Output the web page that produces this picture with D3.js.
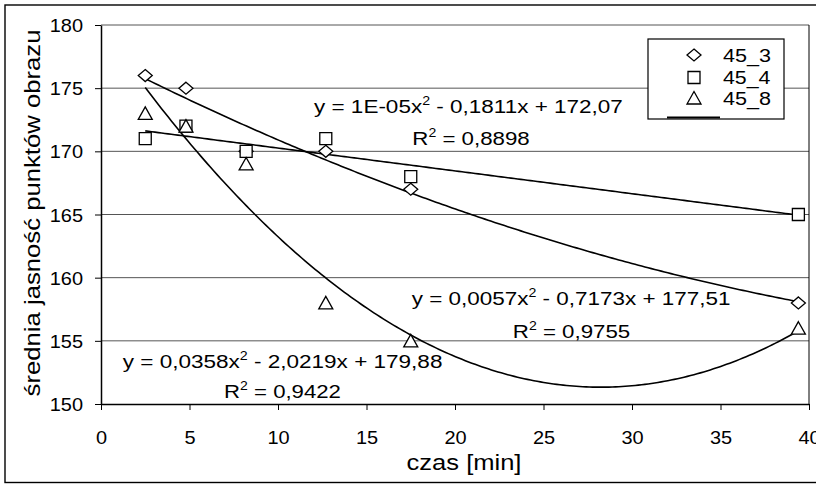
<!DOCTYPE html>
<html>
<head>
<meta charset="utf-8">
<script src="https://cdn.jsdelivr.net/npm/d3@7"></script>
<style>
  html, body { margin: 0; padding: 0; background: #fff; }
  svg { display: block; font-family: "Liberation Sans", Arial, sans-serif; }
</style>
</head>
<body>
<script>
// ---------- data ----------
const seriesNames = ["45_3", "45_4", "45_8"];
const xValues = [2.5, 4.8, 8.2, 12.7, 17.5, 39.4];
const values45_3 = [176, 175, 170, 170, 167, 158];
const values45_4 = [171, 172, 170, 171, 168, 165];
const values45_8 = [173, 172, 169, 158, 155, 156];
// polynomial trendline coefficients [a, b, c] : y = a x^2 + b x + c
const trend45_3 = [0.0057, -0.7173, 177.51];
const trend45_4 = [0.00001, -0.1811, 172.07];
const trend45_8 = [0.0358, -2.0219, 179.88];
const eqLeft45_3 = "y = 0,0057x", eqRight45_3 = " - 0,7173x + 177,51", r2_45_3 = "0,9755";
const eqLeft45_4 = "y = 1E-05x", eqRight45_4 = " - 0,1811x + 172,07", r2_45_4 = "0,8898";
const eqLeft45_8 = "y = 0,0358x", eqRight45_8 = " - 2,0219x + 179,88", r2_45_8 = "0,9422";
const xTicks = [0, 5, 10, 15, 20, 25, 30, 35, 40];
const yTicks = [150, 155, 160, 165, 170, 175, 180];
const xTitle = "czas [min]";
const yTitle = "średnia jasność punktów obrazu";

// ---------- layout ----------
const W = 816, H = 484;
const plot = { left: 101, right: 809, top: 25, bottom: 404 };
const markerShapes = {
  diamond: "M0,-6L7,0L0,6L-7,0Z",
  square: "M-6,-6H6V6H-6Z",
  triangle: "M0,-6.5L7,6L-7,6Z"
};
const series = [
  { name: seriesNames[0], values: values45_3, coef: trend45_3, shape: "diamond",
    eq: [eqLeft45_3, eqRight45_3], r2: r2_45_3, eqPos: { x: 411.7, y: 305, w: 319 }, r2Pos: { cx: 571.5, y: 338, w: 117.5 } },
  { name: seriesNames[1], values: values45_4, coef: trend45_4, shape: "square",
    eq: [eqLeft45_4, eqRight45_4], r2: r2_45_4, eqPos: { x: 314, y: 113, w: 309 }, r2Pos: { cx: 471, y: 145, w: 117.5 } },
  { name: seriesNames[2], values: values45_8, coef: trend45_8, shape: "triangle",
    eq: [eqLeft45_8, eqRight45_8], r2: r2_45_8, eqPos: { x: 122.7, y: 368, w: 320 }, r2Pos: { cx: 282.5, y: 398, w: 117 } }
];

const svg = d3.select("body").append("svg").attr("width", W).attr("height", H);

const x = d3.scaleLinear().domain([0, 40]).range([plot.left, plot.right]);
const y = d3.scaleLinear().domain([150, 180]).range([plot.bottom, plot.top]);

// outer chart border
svg.append("rect").attr("x", 5).attr("y", 5).attr("width", 830).attr("height", 477.5)
  .attr("fill", "#fff").attr("stroke", "#000").attr("stroke-width", 1.4);

// gridlines
svg.append("g").selectAll("line").data(yTicks.filter(v => v > 150)).join("line")
  .attr("x1", plot.left).attr("x2", plot.right)
  .attr("y1", d => y(d)).attr("y2", d => y(d))
  .attr("stroke", "#555").attr("stroke-width", 1);

// right border of plot
svg.append("line").attr("x1", plot.right).attr("x2", plot.right)
  .attr("y1", plot.top).attr("y2", plot.bottom).attr("stroke", "#000").attr("stroke-width", 1);

// axes
const fmtTxt = (sel, fs, k) => sel.attr("font-size", fs).attr("fill", "#000");
const yAxis = svg.append("g").attr("transform", `translate(${plot.left},0)`)
  .call(d3.axisLeft(y).tickValues(yTicks).tickSize(6).tickSizeOuter(0).tickPadding(12));
const xAxis = svg.append("g").attr("transform", `translate(0,${plot.bottom})`)
  .call(d3.axisBottom(x).tickValues(xTicks).tickSize(6).tickSizeOuter(0).tickPadding(20));
[yAxis, xAxis].forEach(a => {
  a.select(".domain").attr("stroke", "#000").attr("stroke-width", 1.5);
  a.selectAll(".tick line").attr("stroke", "#000").attr("stroke-width", 1);
  a.selectAll(".tick text").attr("font-size", 19).attr("fill", "#000")
    .attr("font-family", "Liberation Sans, Arial, sans-serif");
});
yAxis.selectAll(".tick text").attr("dy", "0.35em").attr("x", -18)
  .attr("transform", "scale(1.05,1)");
xAxis.selectAll(".tick text").attr("dy", 0).attr("y", 40)
  .attr("transform", "scale(1.05,1)")
  .each(function () { const t = d3.select(this); const p = d3.select(this.parentNode);
    // keep horizontal scale centered on tick
    t.attr("transform", null).style("transform-box", "fill-box").style("transform-origin", "center").style("transform", "scaleX(1.05)"); });
yAxis.selectAll(".tick text").attr("transform", null)
  .style("transform-box", "fill-box").style("transform-origin", "right center").style("transform", "scaleX(1.05)");

// trend lines
const samples = d3.range(0, 201).map(i => xValues[0] + (xValues[xValues.length - 1] - xValues[0]) * i / 200);
const line = d3.line().x(d => x(d[0])).y(d => y(d[1]));
svg.append("g").selectAll("path").data(series).join("path")
  .attr("d", s => line(samples.map(t => [t, s.coef[0] * t * t + s.coef[1] * t + s.coef[2]])))
  .attr("fill", "none").attr("stroke", "#000").attr("stroke-width", 1.6);

// markers
series.forEach(s => {
  svg.append("g").selectAll("path").data(s.values.map((v, i) => [xValues[i], v])).join("path")
    .attr("d", markerShapes[s.shape])
    .attr("transform", d => `translate(${x(d[0])},${y(d[1])})`)
    .attr("fill", "#fff").attr("stroke", "#000").attr("stroke-width", 1.3);
});

// text helper: fit to a target width by horizontal scaling
function fitText(textSel, px, py, targetW, anchor) {
  const node = textSel.node();
  const w = node.getBBox().width;
  const k = targetW / w;
  textSel.attr("transform", `translate(${px},${py}) scale(${k},1)`).attr("text-anchor", anchor);
}

// equations
series.forEach(s => {
  const t = svg.append("text").attr("font-size", 19).attr("fill", "#000");
  t.append("tspan").text(s.eq[0]);
  t.append("tspan").attr("font-size", 12).attr("dy", -8).text("2");
  t.append("tspan").attr("dy", 8).text(s.eq[1]);
  fitText(t, s.eqPos.x, s.eqPos.y, s.eqPos.w, "start");

  const r = svg.append("text").attr("font-size", 19).attr("fill", "#000").attr("text-anchor", "middle");
  r.append("tspan").text("R");
  r.append("tspan").attr("font-size", 12).attr("dy", -8).text("2");
  r.append("tspan").attr("dy", 8).text(" = " + s.r2);
  fitText(r, s.r2Pos.cx, s.r2Pos.y, s.r2Pos.w, "middle");
});

// axis titles
const xt = svg.append("text").attr("font-size", 22).attr("fill", "#000").text(xTitle);
fitText(xt, 464, 470, 115, "middle");
const yt = svg.append("text").attr("font-size", 22).attr("fill", "#000").text(yTitle);
(function () {
  const w = yt.node().getBBox().width;
  yt.attr("text-anchor", "middle").attr("transform", `translate(40,213) rotate(-90) scale(${367 / w},1)`);
})();

// legend
const lg = svg.append("g");
lg.append("rect").attr("x", 648).attr("y", 39).attr("width", 136).attr("height", 80)
  .attr("fill", "#fff").attr("stroke", "#000").attr("stroke-width", 1.2);
const legendRows = [55, 77.5, 98];
series.forEach((s, i) => {
  lg.append("path").attr("d", markerShapes[s.shape])
    .attr("transform", `translate(694,${legendRows[i]})`)
    .attr("fill", "#fff").attr("stroke", "#000").attr("stroke-width", 1.3);
  const t = lg.append("text").attr("font-size", 19).attr("fill", "#000").text(s.name);
  fitText(t, 723, legendRows[i] + 6.5, 48, "start");
});
lg.append("line").attr("x1", 667).attr("x2", 720).attr("y1", 117.5).attr("y2", 117.5)
  .attr("stroke", "#000").attr("stroke-width", 2);
</script>
</body>
</html>
